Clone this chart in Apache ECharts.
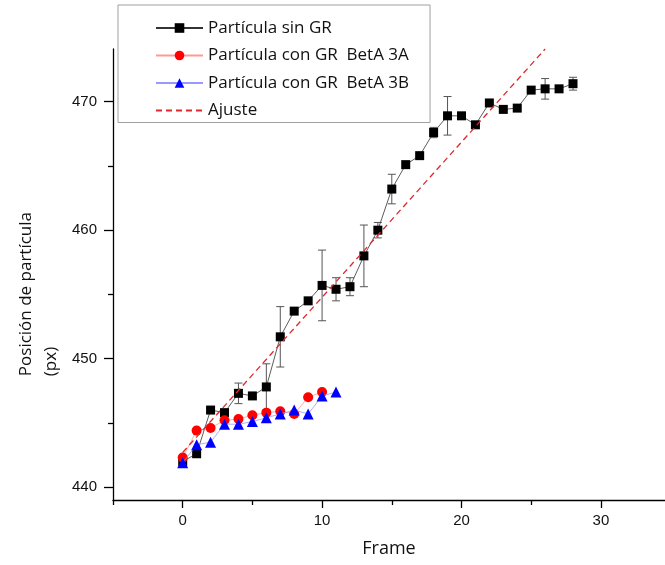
<!DOCTYPE html>
<html>
<head>
<meta charset="utf-8">
<title>Posición de partícula</title>
<script src="https://cdn.jsdelivr.net/npm/echarts@6/dist/echarts.min.js"></script>
<style>
  html, body { margin: 0; padding: 0; background: #ffffff; }
  #chart { width: 665px; height: 565px; }
</style>
</head>
<body>
<div id="chart"></div>
<script>
// Particle position per frame
const frames = [0, 1, 2, 3, 4, 5, 6, 7, 8, 9, 10, 11, 12, 13, 14, 15, 16, 17, 18, 19, 20, 21, 22, 23, 24, 25, 26, 27, 28];
const sinGR = [442.0, 442.6, 446.0, 445.8, 447.3, 447.1, 447.8, 451.7, 453.7, 454.5, 455.7, 455.4, 455.6, 458.0, 460.0,
               463.2, 465.1, 465.8, 467.6, 468.9, 468.9, 468.2, 469.9, 469.4, 469.5, 470.9, 471.0, 471.0, 471.4];
const sinGRErr = [0, 0, 0, 0, 0.8, 0, 1.8, 2.35, 0, 0, 2.75, 0.9, 0.7, 2.4, 0.6,
                  1.15, 0, 0, 0.4, 1.5, 0, 0, 0, 0, 0, 0, 0.8, 0, 0.5];

const frames3A = [0, 1, 2, 3, 4, 5, 6, 7, 8, 9, 10];
const betA3A = [442.3, 444.4, 444.6, 445.2, 445.3, 445.6, 445.8, 445.9, 445.7, 447.0, 447.4];

const frames3B = [0, 1, 2, 3, 4, 5, 6, 7, 8, 9, 10, 11];
const betA3B = [441.9, 443.3, 443.5, 444.9, 444.9, 445.1, 445.4, 445.7, 446.0, 445.7, 447.1, 447.4];

// Linear fit endpoints
const ajusteX = [0, 26];
const ajusteY = [442.7, 474.1];

// Axis ticks
const xMajorTicks = [0, 10, 20, 30];
const xMinorTicks = [-5, 5, 15, 25];
const yMajorTicks = [440, 450, 460, 470];
const yMinorTicks = [445, 455, 465];

const pairs = (xs, ys) => xs.map((x, i) => [x, ys[i]]);

const chart = echarts.init(document.getElementById('chart'), null, { renderer: 'canvas' });

const X_MIN = -5, X_MAX = 34.6, Y_MIN = 439, Y_MAX = 474.1;
const labelFont = 'Liberation Sans, Arial, sans-serif';
const textFont = 'Open Sans, Noto Sans, sans-serif';

const baseX = {
  type: 'value', min: X_MIN, max: X_MAX, splitLine: { show: false }
};
const baseY = {
  type: 'value', min: Y_MIN, max: Y_MAX, splitLine: { show: false }
};

chart.setOption({
  animation: false,
  backgroundColor: '#ffffff',
  grid: { left: 113, right: 0, top: 49, bottom: 65, containLabel: false },
  legend: {
    left: 118, top: 5,
    orient: 'vertical',
    padding: [14, 21, 3, 37],
    itemGap: 9.5,
    itemWidth: 47,
    itemHeight: 12,
    borderColor: '#a0a0a0',
    borderWidth: 1,
    backgroundColor: '#ffffff',
    textStyle: { fontFamily: textFont, fontSize: 17, lineHeight: 18, color: '#111111' },
    data: [
      'Partícula sin GR',
      'Partícula con GR  BetA 3A',
      'Partícula con GR  BetA 3B',
      { name: 'Ajuste', itemStyle: { opacity: 0 } }
    ]
  },
  xAxis: [
    Object.assign({}, baseX, {
      name: 'Frame',
      nameLocation: 'middle',
      nameGap: 40,
      nameTextStyle: { fontFamily: textFont, fontSize: 18, color: '#111111' },
      axisLine: { show: true, onZero: false, lineStyle: { color: '#000', width: 1.3 } },
      axisTick: { show: true, inside: false, length: 8, customValues: xMajorTicks, lineStyle: { color: '#000', width: 1.3 } },
      axisLabel: { show: true, margin: 13, customValues: xMajorTicks, fontFamily: labelFont, fontSize: 15, color: '#111111' }
    }),
    Object.assign({}, baseX, {
      position: 'bottom',
      axisLine: { show: false, onZero: false },
      axisTick: { show: true, length: 5, customValues: xMinorTicks, lineStyle: { color: '#000', width: 1.3 } },
      axisLabel: { show: false }
    })
  ],
  yAxis: [
    Object.assign({}, baseY, {
      axisLine: { show: true, onZero: false, lineStyle: { color: '#000', width: 1.3 } },
      axisTick: { show: true, inside: false, length: 9, customValues: yMajorTicks, lineStyle: { color: '#000', width: 1.3 } },
      axisLabel: { show: true, margin: 16, customValues: yMajorTicks, fontFamily: labelFont, fontSize: 15, color: '#111111' }
    }),
    Object.assign({}, baseY, {
      position: 'left',
      axisLine: { show: false, onZero: false },
      axisTick: { show: true, length: 5, customValues: yMinorTicks, lineStyle: { color: '#000', width: 1.3 } },
      axisLabel: { show: false }
    })
  ],
  graphic: [
    {
      type: 'text',
      left: 14, top: 212,
      rotation: Math.PI / 2,
      style: {
        text: 'Posición de partícula\n(px)',
        fontFamily: textFont, fontSize: 17, lineHeight: 25,
        fill: '#111111', align: 'center'
      }
    }
  ],
  series: [
    {
      name: 'errores',
      type: 'custom',
      xAxisIndex: 0, yAxisIndex: 0,
      z: 1,
      data: frames.map((f, i) => [f, sinGR[i], sinGRErr[i]]),
      renderItem: function (params, api) {
        const x = api.value(0), y = api.value(1), e = api.value(2);
        if (!e) return null;
        const top = api.coord([x, y + e]);
        const bot = api.coord([x, y - e]);
        const w = 4;
        const style = { stroke: '#555555', lineWidth: 1 };
        return {
          type: 'group',
          children: [
            { type: 'line', shape: { x1: top[0], y1: top[1], x2: bot[0], y2: bot[1] }, style: style },
            { type: 'line', shape: { x1: top[0] - w, y1: top[1], x2: top[0] + w, y2: top[1] }, style: style },
            { type: 'line', shape: { x1: bot[0] - w, y1: bot[1], x2: bot[0] + w, y2: bot[1] }, style: style }
          ]
        };
      }
    },
    {
      name: 'Partícula sin GR',
      type: 'line',
      z: 2,
      data: pairs(frames, sinGR),
      symbol: 'rect',
      symbolSize: 9,
      itemStyle: { color: '#000000' },
      lineStyle: { color: '#333333', width: 0.8 }
    },
    {
      name: 'Partícula con GR  BetA 3A',
      type: 'line',
      z: 3,
      data: pairs(frames3A, betA3A),
      symbol: 'circle',
      symbolSize: 10,
      itemStyle: { color: '#ff0000' },
      lineStyle: { color: '#ff9999', width: 0.8 }
    },
    {
      name: 'Partícula con GR  BetA 3B',
      type: 'line',
      z: 4,
      data: pairs(frames3B, betA3B),
      symbol: 'triangle',
      symbolSize: 11,
      itemStyle: { color: '#0000ff' },
      lineStyle: { color: '#9999ff', width: 0.8 }
    },
    {
      name: 'Ajuste',
      type: 'line',
      z: 5,
      data: pairs(ajusteX, ajusteY),
      symbol: 'none',
      itemStyle: { color: '#e0282e' },
      lineStyle: { color: '#e0282e', width: 1.3, type: [6, 4] }
    }
  ]
});
</script>
</body>
</html>
